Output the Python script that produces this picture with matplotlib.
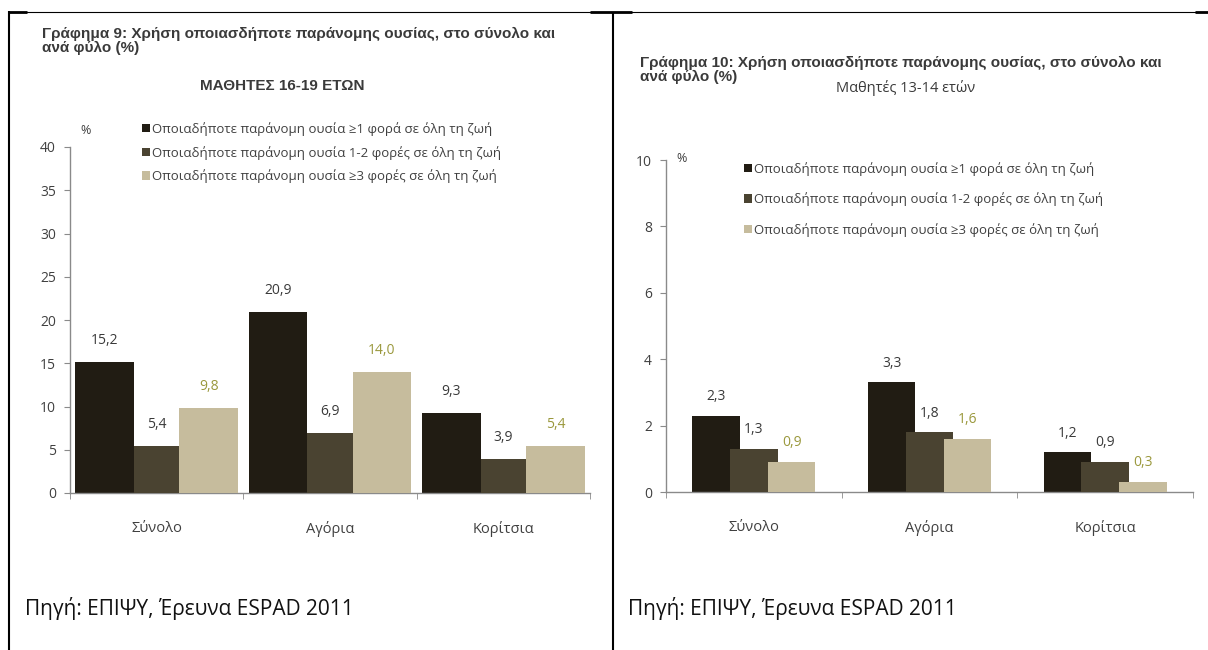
import matplotlib
matplotlib.use("Agg")
import matplotlib.pyplot as plt
from matplotlib.lines import Line2D
from matplotlib.patches import Patch

W, H = 1208, 650

categories = ["Σύνολο", "Αγόρια", "Κορίτσια"]
series_labels = [
    "Οποιαδήποτε παράνομη ουσία ≥1 φορά σε όλη τη ζωή",
    "Οποιαδήποτε παράνομη ουσία 1-2 φορές σε όλη τη ζωή",
    "Οποιαδήποτε παράνομη ουσία ≥3 φορές σε όλη τη ζωή",
]
bar_colors = ["#211c13", "#4a4331", "#c6bc9d"]
value_colors = ["#3a3a3a", "#3a3a3a", "#9a983c"]

# Γράφημα 9: μαθητές 16-19
older_values = [
    [15.2, 20.9, 9.3],
    [5.4, 6.9, 3.9],
    [9.8, 14.0, 5.4],
]
# Γράφημα 10: μαθητές 13-14
younger_values = [
    [2.3, 3.3, 1.2],
    [1.3, 1.8, 0.9],
    [0.9, 1.6, 0.3],
]

title_9 = ["Γράφημα 9: Χρήση οποιασδήποτε παράνομης ουσίας, στο σύνολο και",
           "ανά φύλο (%)"]
title_10 = ["Γράφημα 10: Χρήση οποιασδήποτε παράνομης ουσίας, στο σύνολο και",
            "ανά φύλο (%)"]
source = "Πηγή: ΕΠΙΨΥ, Έρευνα ESPAD 2011"

SANS = ["Open Sans", "DejaVu Sans"]
BOLD = ["Liberation Sans", "DejaVu Sans"]
AXIS_GREY = "#8a8a8a"
TEXT_GREY = "#404040"


def fx(px):
    return px / W


def fy(py):
    return 1 - py / H


def px_axes(fig, x0, y_top, x1, y_bottom):
    return fig.add_axes([fx(x0), fy(y_bottom), fx(x1 - x0), (y_bottom - y_top) / H])


def draw_title(fig, x, y, lines):
    for k, line in enumerate(lines):
        fig.text(fx(x), fy(y + 14 * k), line, fontsize=11, fontweight="bold",
                 family=BOLD, color="#3a3a3a", va="center")


def draw_panel(ax, values, ymax, ystep, offsets, widths, label_pad):
    for i, series in enumerate(values):
        xs = [c + offsets[i] for c in range(len(categories))]
        ax.bar(xs, series, width=widths[i], color=bar_colors[i], zorder=2 + i)
        for x, v in zip(xs, series):
            ax.text(x, v + label_pad, f"{v:.1f}".replace(".", ","),
                    ha="center", va="bottom", fontsize=10, family=SANS,
                    color=value_colors[i])

    ax.set_xlim(-0.5, 2.5)
    ax.set_ylim(0, ymax)
    ax.set_yticks([ystep * k for k in range(int(round(ymax / ystep)) + 1)])
    ax.set_xticks(range(len(categories)))
    ax.set_xticklabels(categories)
    ax.set_xticks([-0.5, 0.5, 1.5, 2.5], minor=True)

    for side in ("top", "right"):
        ax.spines[side].set_visible(False)
    for side in ("left", "bottom"):
        ax.spines[side].set_color(AXIS_GREY)
        ax.spines[side].set_linewidth(1.0)

    ax.tick_params(axis="y", direction="out", length=4, color=AXIS_GREY,
                   labelsize=10, labelcolor=TEXT_GREY, pad=6)
    ax.tick_params(axis="x", which="major", length=0, labelsize=10.5,
                   labelcolor=TEXT_GREY, pad=20)
    ax.tick_params(axis="x", which="minor", direction="out", length=4,
                   color=AXIS_GREY)
    for lab in ax.get_xticklabels() + ax.get_yticklabels():
        lab.set_family(SANS)
    ax.patch.set_alpha(0)


fig = plt.figure(figsize=(W / 100, H / 100), dpi=100)

# Γράφημα 9
ax9 = px_axes(fig, 70, 147, 590, 493)
draw_panel(ax9, older_values, 40, 5, [-0.3, 0.0, 0.3], [0.34, 0.26, 0.34], 1.6)
draw_title(fig, 42, 34, title_9)
fig.text(fx(282), fy(86), "ΜΑΘΗΤΕΣ 16-19 ΕΤΩΝ", fontsize=11, fontweight="bold",
         family=BOLD, color="#3a3a3a", ha="center", va="center")
fig.text(fx(80), fy(130), "%", fontsize=9, family=SANS, color=TEXT_GREY,
         va="center")

# Γράφημα 10
ax10 = px_axes(fig, 666, 160, 1193, 492)
draw_panel(ax10, younger_values, 10, 2, [-0.215, 0.0, 0.215], [0.27, 0.27, 0.27], 0.35)
draw_title(fig, 640, 63, title_10)
fig.text(fx(906), fy(88), "Μαθητές 13-14 ετών", fontsize=10.5, family=SANS,
         color="#3a3a3a", ha="center", va="center")
fig.text(fx(676), fy(158), "%", fontsize=9, family=SANS, color=TEXT_GREY,
         va="center")

handles = [Patch(facecolor=c) for c in bar_colors]
for anchor, spacing in (((fx(142), fy(122)), 0.75), ((fx(744), fy(162)), 1.25)):
    leg = fig.legend(handles, series_labels, loc="upper left",
                     bbox_to_anchor=anchor, frameon=False, fontsize=9.5,
                     handlelength=0.6, handleheight=0.6, handletextpad=0.15,
                     labelspacing=spacing, borderaxespad=0, borderpad=0)
    for t in leg.get_texts():
        t.set_color(TEXT_GREY)
        t.set_family(SANS)

# source lines under each chart
fig.text(fx(25), fy(608), source, fontsize=15, family=SANS, color="#111111",
         va="center")
fig.text(fx(628), fy(608), source, fontsize=15, family=SANS, color="#111111",
         va="center")


# table borders
def hline(x0, x1, y, lw):
    fig.add_artist(Line2D([fx(x0), fx(x1)], [fy(y), fy(y)], color="black",
                          linewidth=lw, solid_capstyle="butt"))


def vline(x, y0, y1, lw):
    fig.add_artist(Line2D([fx(x), fx(x)], [fy(y0), fy(y1)], color="black",
                          linewidth=lw, solid_capstyle="butt"))


hline(8, 1208, 12, 0.8)
hline(8, 27, 12, 2.0)
hline(590, 632, 12, 2.0)
hline(1195, 1208, 12, 2.0)
vline(9, 11, 650, 1.5)
vline(613, 12, 650, 1.5)

fig.savefig("out.png", dpi=100)
